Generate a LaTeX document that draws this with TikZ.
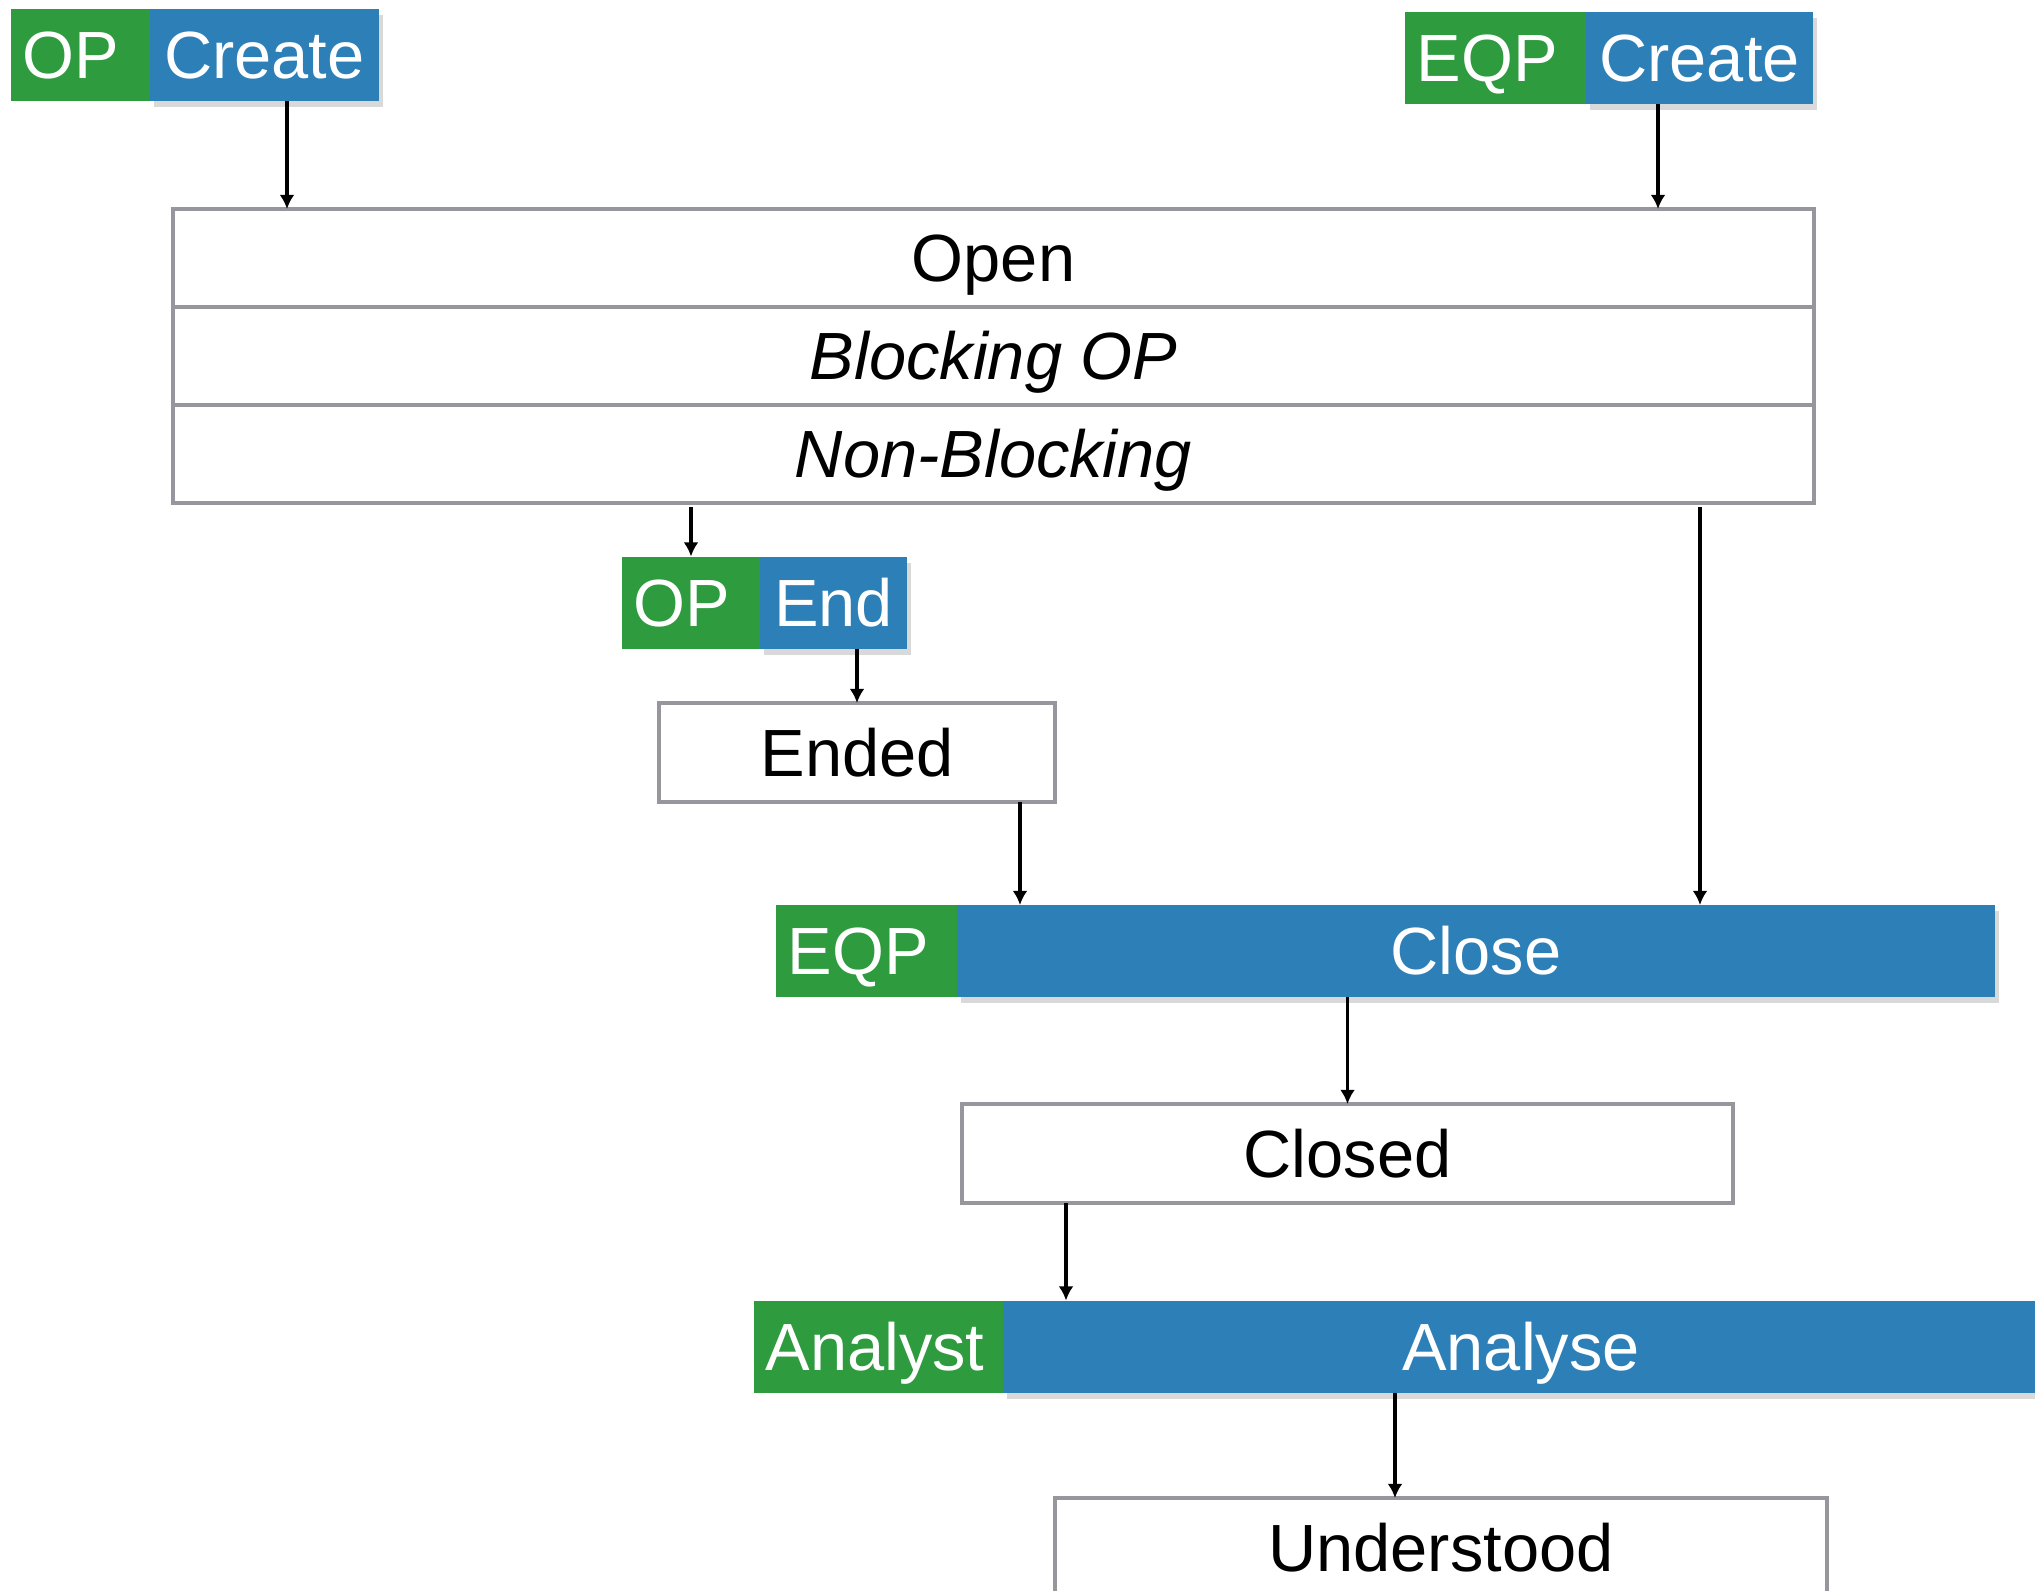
\documentclass[tikz,border=0pt]{standalone}
\usepackage{fontspec}
\setmainfont{Liberation Sans}
\usepackage{xcolor}
\usetikzlibrary{positioning, shadows}
\usetikzlibrary{arrows.meta}
\tikzset{>={Latex[width=4.2pt,length=4pt]}}
\definecolor{tagGreen}{RGB}{46,155,63}
\definecolor{actBlue}{RGB}{45,127,184}
\definecolor{boxGray}{RGB}{150,150,156}

\begin{document}
\begin{tikzpicture}[font=\fontsize{19}{22}\selectfont, node distance=0pt, tag/.style={fill=tagGreen, text=white, inner ysep=0pt, inner xsep=1.15mm, outer sep=0pt, align=left, minimum height=9.2mm, text height=13.6pt, text depth=0pt}, action/.style={fill=actBlue, text=white, inner sep=0pt, outer sep=0pt, minimum height=9.2mm, text height=13.6pt, text depth=0pt, drop shadow={opacity=0.3, shadow xshift=0.4mm, shadow yshift=-0.6mm}}, state/.style={draw=boxGray, line width=1.2pt, fill=white, inner sep=0pt, outer sep=0pt, minimum height=9.8mm, text height=13.6pt, text depth=0pt}, flow/.style={->, line width=1pt}]

    \useasboundingbox (0,0) rectangle (20.35,-15.90);

    %Nodes
    \node[tag, text width=11.6mm](opTag) at (0.805,-0.55){OP};
    \node[action, minimum width=22.9mm](opCreate)[right=of opTag]{Create};
    \node[tag, text width=15.8mm](eqpTag) at (14.955,-0.575){EQP};
    \node[action, minimum width=22.7mm](eqpCreate)[right=of eqpTag]{Create};
    \node[state, minimum width=164.1mm](open) at (9.935,-2.58){Open};
    \node[state, minimum width=164.1mm](blocking)[below=of open]{\itshape Blocking OP};
    \node[state, minimum width=164.1mm](nonBlocking)[below=of blocking]{\itshape Non-Blocking};
    \node[tag, text width=11.5mm](opEndTag) at (6.91,-6.025){OP};
    \node[action, minimum width=14.7mm](opEnd)[right=of opEndTag]{End};
    \node[state, minimum width=39.6mm, minimum height=9.9mm](ended) at (8.57,-7.525){Ended};
    \node[tag, text width=15.8mm](eqpCloseTag) at (8.665,-9.51){EQP};
    \node[action, minimum width=103.8mm](close)[right=of eqpCloseTag]{Close};
    \node[state, minimum width=77.1mm, minimum height=9.9mm](closed) at (13.475,-11.535){Closed};
    \node[tag, text width=22.6mm](analystTag) at (8.785,-13.465){Analyst};
    \node[action, minimum width=103.6mm](analyse)[right=of analystTag]{Analyse};
    \node[state, minimum width=77.2mm, minimum height=9.9mm](understood) at (14.41,-15.475){Understood};

    %Lines
    \draw[flow] ([xshift=2.25mm]opCreate.south) coordinate (opDrop) -- (opDrop |- open.north);
    \draw[flow] ([xshift=-4.15mm]eqpCreate.south) coordinate (eqpDrop) -- (eqpDrop |- open.north);
    \draw[flow] ([yshift=-0.4mm]opEndTag.north |- nonBlocking.south) -- (opEndTag.north);
    \draw[flow] (ended.north |- opEnd.south) -- (ended.north);
    \draw[flow] ([xshift=-3.5mm]ended.south east) coordinate (endedDrop) -- (endedDrop |- close.north);
    \draw[flow] ([xshift=-11.4mm, yshift=-0.4mm]nonBlocking.south east) coordinate (openDrop) -- (openDrop |- close.north);
    \draw[flow] (closed.north |- close.south) -- (closed.north);
    \draw[flow] ([xshift=10.4mm]closed.south west) coordinate (closedDrop) -- (closedDrop |- analyse.north);
    \coordinate (analyseDrop) at ([xshift=-4.6mm]understood.north);
    \draw[flow] (analyseDrop |- analyse.south) -- (analyseDrop);

\end{tikzpicture}
\end{document}
